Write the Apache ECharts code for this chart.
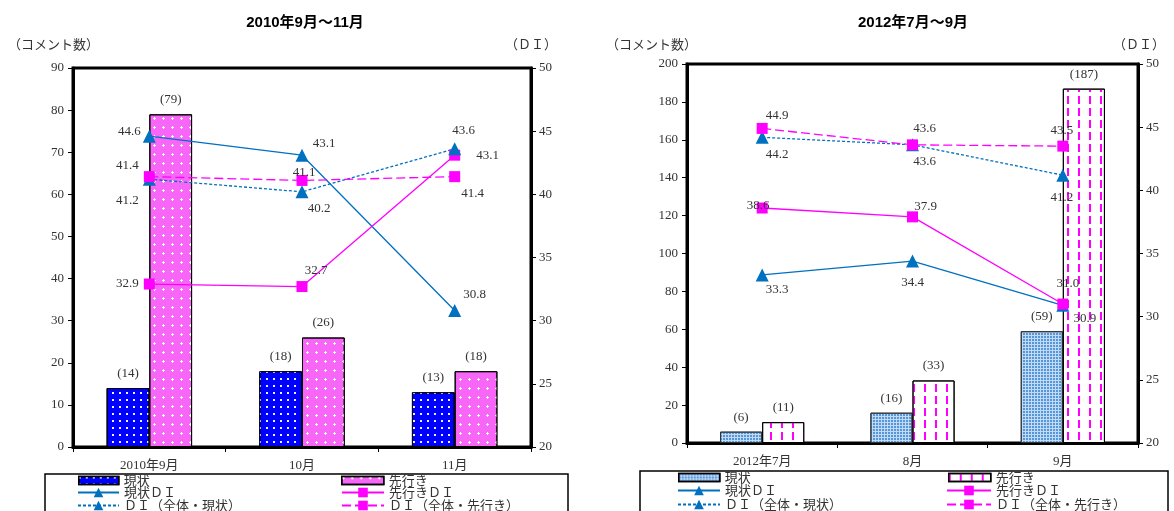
<!DOCTYPE html>
<html>
<head>
<meta charset="utf-8">
<script src="https://cdn.jsdelivr.net/npm/echarts@6/dist/echarts.min.js"></script>
<style>
  html, body { margin: 0; padding: 0; background: #fff; }
  #chart { width: 1174px; height: 511px; }
</style>
</head>
<body>
<div id="chart"></div>
<script>
// ---- 2010年9月～11月 ----
const leftCategories = ['2010年9月', '10月', '11月'];
const leftNowCount = [14, 18, 13];
const leftAheadCount = [79, 26, 18];
const leftNowDI = [44.6, 43.1, 30.8];
const leftAheadDI = [32.9, 32.7, 43.1];
const leftAllNowDI = [41.2, 40.2, 43.6];
const leftAllAheadDI = [41.4, 41.1, 41.4];
const leftCountAxis = { min: 0, max: 90, interval: 10 };

// ---- 2012年7月～9月 ----
const rightCategories = ['2012年7月', '8月', '9月'];
const rightNowCount = [6, 16, 59];
const rightAheadCount = [11, 33, 187];
const rightNowDI = [33.3, 34.4, 30.9];
const rightAheadDI = [38.6, 37.9, 31.0];
const rightAllNowDI = [44.2, 43.6, 41.2];
const rightAllAheadDI = [44.9, 43.6, 43.5];
const rightCountAxis = { min: 0, max: 200, interval: 20 };

const diAxis = { min: 20, max: 50, interval: 5 };

// label placement (offset of each value label from its marker centre)
const leftNowDIOffsets = [[-20, -5], [22, -12], [20, -16]];
const leftAheadDIOffsets = [[-22, 0], [14, -16], [33, 0]];
const leftAllNowDIOffsets = [[-22, 21], [17, 17], [9, -18]];
const leftAllAheadDIOffsets = [[-22, -11], [2, -8], [18, 17]];
const rightNowDIOffsets = [[15, 15], [0, 21], [22, 13]];
const rightAheadDIOffsets = [[-4, -2], [13, -10], [5, -20]];
const rightAllNowDIOffsets = [[15, 17], [12, 17], [-1, 22]];
const rightAllAheadDIOffsets = [[15, -13], [12, -16], [-1, -16]];

const SERIF = "'Liberation Serif', 'DejaVu Serif', 'Noto Sans CJK JP', serif";
const JP = "'Noto Sans CJK JP', sans-serif";
const BLUE = '#0070c0';
const MAGENTA = '#ff00ff';

const plusPath = 'path://M1,0H2V1H3V2H2V3H1V2H0V1H1Z';

const decals = {
  leftNow: { symbol: 'rect', symbolSize: 1, color: 'rgba(255,255,255,0.95)', dashArrayX: [2, 5], dashArrayY: [2, 5] },
  leftAhead: { symbol: plusPath, symbolSize: 1, color: '#ffffff', dashArrayX: [3, 6], dashArrayY: [3, 6] },
  rightNow: { symbol: 'circle', symbolSize: 1, color: '#2f7fd4', dashArrayX: [2, 1], dashArrayY: [2, 1] },
  rightAhead: { symbol: 'rect', symbolSize: 1, color: MAGENTA, dashArrayX: [2, 9], dashArrayY: [8, 4] }
};

function barSeries(name, values, fill, border, decal, gridIdx) {
  return {
    name: name,
    type: 'bar',
    xAxisIndex: gridIdx,
    yAxisIndex: gridIdx * 2,
    data: values,
    barWidth: '28%',
    barGap: '0%',
    z: 2,
    itemStyle: { color: fill, borderColor: border, borderWidth: 1, decal: decal },
    label: {
      show: true, position: 'top', distance: 8,
      formatter: p => '(' + p.value + ')',
      fontFamily: SERIF, fontSize: 13, color: '#333'
    }
  };
}

function lineSeries(name, values, offsets, color, symbol, lineType, gridIdx) {
  return {
    name: name,
    type: 'line',
    xAxisIndex: gridIdx,
    yAxisIndex: gridIdx * 2 + 1,
    symbol: symbol,
    symbolSize: symbol === 'triangle' ? 13 : 11,
    z: 5,
    lineStyle: { color: color, width: 1.3, type: lineType },
    itemStyle: { color: color },
    data: values.map((v, i) => ({
      value: v,
      label: { offset: offsets[i] }
    })),
    label: {
      show: true, position: 'inside',
      formatter: p => p.value.toFixed(1),
      fontFamily: SERIF, fontSize: 13, color: '#333'
    }
  };
}

function countYAxis(gridIdx, range) {
  return {
    type: 'value', gridIndex: gridIdx, position: 'left',
    min: range.min, max: range.max, interval: range.interval,
    axisLine: { show: true, lineStyle: { color: '#000', width: 3 } },
    axisTick: { show: true, length: 5, lineStyle: { color: '#000' } },
    axisLabel: { fontFamily: SERIF, fontSize: 13, color: '#333', margin: 9 },
    splitLine: { show: false }
  };
}

function diYAxis(gridIdx) {
  return {
    type: 'value', gridIndex: gridIdx, position: 'right',
    min: diAxis.min, max: diAxis.max, interval: diAxis.interval,
    axisLine: { show: true, lineStyle: { color: '#000', width: 3 } },
    axisTick: { show: true, length: 5, lineStyle: { color: '#000' } },
    axisLabel: { fontFamily: SERIF, fontSize: 13, color: '#333', margin: 8 },
    splitLine: { show: false }
  };
}

function catXAxis(gridIdx, cats) {
  return {
    type: 'category', gridIndex: gridIdx, data: cats,
    axisLine: { show: true, lineStyle: { color: '#000', width: 3 } },
    axisTick: { show: true, length: 5, lineStyle: { color: '#000' } },
    axisLabel: { fontFamily: SERIF, fontSize: 13, color: '#333', margin: 12 }
  };
}

// one legend entry per component so entries sit in the boxed two-column layout
function legendEntry(name, left, top, width, height, isBar) {
  const entry = {
    data: [name], left: left, top: top, padding: 0,
    itemWidth: width, itemHeight: height,
    selectedMode: false,
    formatter: n => n.slice(1),
    textStyle: { fontFamily: JP, fontSize: 13, color: '#333' }
  };
  if (isBar) {
    entry.icon = 'rect';
    entry.itemStyle = { borderWidth: 1.5, borderColor: '#000' };
  }
  return entry;
}

const leftSeriesNames = ['L現状', 'L先行き', 'L現状ＤＩ', 'L先行きＤＩ', 'LＤＩ（全体・現状）', 'LＤＩ（全体・先行き）'];
const rightSeriesNames = ['R現状', 'R先行き', 'R現状ＤＩ', 'R先行きＤＩ', 'RＤＩ（全体・現状）', 'RＤＩ（全体・先行き）'];

const option = {
  animation: false,
  backgroundColor: '#fff',
  title: [
    { text: '2010年9月～11月', left: 300, top: 10, textAlign: 'center',
      textStyle: { fontFamily: "'Liberation Sans', 'Noto Sans CJK JP', sans-serif", fontSize: 15, fontWeight: 'bold', color: '#000' } },
    { text: '2012年7月～9月', left: 908, top: 10, textAlign: 'center',
      textStyle: { fontFamily: "'Liberation Sans', 'Noto Sans CJK JP', sans-serif", fontSize: 15, fontWeight: 'bold', color: '#000' } }
  ],
  grid: [
    { left: 73, top: 68, width: 458, height: 379, show: true, borderColor: '#000', borderWidth: 3, backgroundColor: '#fff' },
    { left: 687, top: 64, width: 451, height: 379, show: true, borderColor: '#000', borderWidth: 3, backgroundColor: '#fff' }
  ],
  xAxis: [catXAxis(0, leftCategories), catXAxis(1, rightCategories)],
  yAxis: [countYAxis(0, leftCountAxis), diYAxis(0), countYAxis(1, rightCountAxis), diYAxis(1)],
  legend: [
    legendEntry(leftSeriesNames[0], 78, 474, 40, 8, true),
    legendEntry(leftSeriesNames[1], 341, 474, 42, 8, true),
    legendEntry(leftSeriesNames[2], 77, 486, 41, 12),
    legendEntry(leftSeriesNames[3], 341, 486, 42, 12),
    legendEntry(leftSeriesNames[4], 77, 499, 41, 12),
    legendEntry(leftSeriesNames[5], 341, 499, 42, 12),
    legendEntry(rightSeriesNames[0], 678, 471, 41, 8, true),
    legendEntry(rightSeriesNames[1], 948, 471, 42, 8, true),
    legendEntry(rightSeriesNames[2], 677, 484, 42, 12),
    legendEntry(rightSeriesNames[3], 946, 484, 44, 12),
    legendEntry(rightSeriesNames[4], 677, 498, 42, 12),
    legendEntry(rightSeriesNames[5], 946, 498, 44, 12)
  ],
  graphic: [
    { type: 'rect', shape: { x: 45, y: 474, width: 523, height: 60 }, style: { fill: 'none', stroke: '#000', lineWidth: 1.5 }, z: 0 },
    { type: 'rect', shape: { x: 640, y: 471, width: 528, height: 60 }, style: { fill: 'none', stroke: '#000', lineWidth: 1.5 }, z: 0 },
    { type: 'text', x: 8, y: 38, style: { text: '（コメント数）', font: "13px 'Noto Sans CJK JP'", fill: '#333' } },
    { type: 'text', x: 505, y: 38, style: { text: '（ＤＩ）', font: "13px 'Noto Sans CJK JP'", fill: '#333' } },
    { type: 'text', x: 606, y: 38, style: { text: '（コメント数）', font: "13px 'Noto Sans CJK JP'", fill: '#333' } },
    { type: 'text', x: 1113, y: 38, style: { text: '（ＤＩ）', font: "13px 'Noto Sans CJK JP'", fill: '#333' } }
  ],
  series: [
    barSeries(leftSeriesNames[0], leftNowCount, '#0000ff', '#000', decals.leftNow, 0),
    barSeries(leftSeriesNames[1], leftAheadCount, '#f766f7', '#000', decals.leftAhead, 0),
    lineSeries(leftSeriesNames[2], leftNowDI, leftNowDIOffsets, BLUE, 'triangle', 'solid', 0),
    lineSeries(leftSeriesNames[3], leftAheadDI, leftAheadDIOffsets, MAGENTA, 'rect', 'solid', 0),
    lineSeries(leftSeriesNames[4], leftAllNowDI, leftAllNowDIOffsets, BLUE, 'triangle', [3, 2], 0),
    lineSeries(leftSeriesNames[5], leftAllAheadDI, leftAllAheadDIOffsets, MAGENTA, 'rect', [9, 4], 0),
    barSeries(rightSeriesNames[0], rightNowCount, '#c3daf3', '#333', decals.rightNow, 1),
    barSeries(rightSeriesNames[1], rightAheadCount, '#ffffff', '#000', decals.rightAhead, 1),
    lineSeries(rightSeriesNames[2], rightNowDI, rightNowDIOffsets, BLUE, 'triangle', 'solid', 1),
    lineSeries(rightSeriesNames[3], rightAheadDI, rightAheadDIOffsets, MAGENTA, 'rect', 'solid', 1),
    lineSeries(rightSeriesNames[4], rightAllNowDI, rightAllNowDIOffsets, BLUE, 'triangle', [3, 2], 1),
    lineSeries(rightSeriesNames[5], rightAllAheadDI, rightAllAheadDIOffsets, MAGENTA, 'rect', [9, 4], 1)
  ]
};

const chart = echarts.init(document.getElementById('chart'), null, { renderer: 'canvas' });
chart.setOption(option);
</script>
</body>
</html>
